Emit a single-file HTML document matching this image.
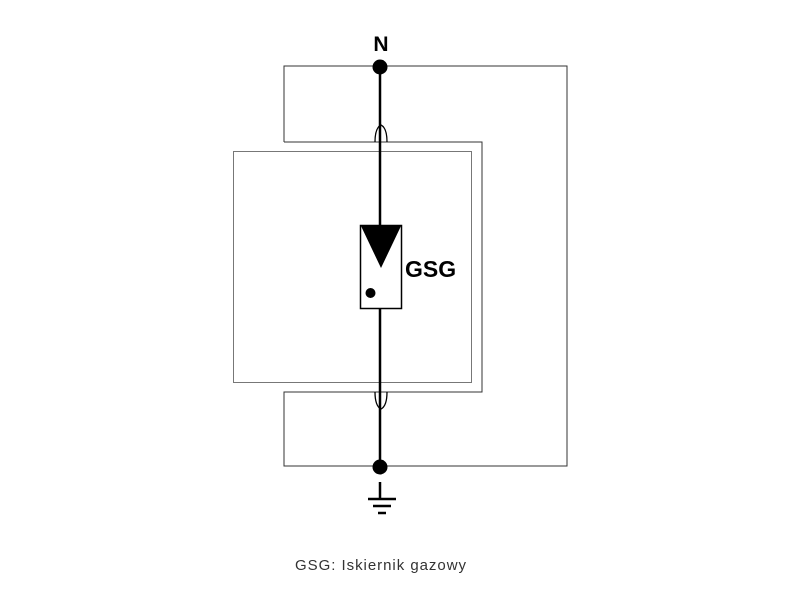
<!DOCTYPE html>
<html><head><style>body{margin:0;background:#fff}</style></head><body>
<svg width="800" height="600" xmlns="http://www.w3.org/2000/svg">
<g fill="none" stroke-width="1">
<polyline points="284,142 284,66 567,66 567,466 284,466 284,392 482,392 482,142 284,142" stroke="#333"/>
<rect x="233.5" y="151.5" width="238" height="231" stroke="#777"/>
</g>
<g stroke="#000" stroke-width="2.5" fill="none">
<line x1="380" y1="66" x2="380" y2="225"/>
<line x1="380" y1="308" x2="380" y2="466"/>
<line x1="380" y1="482" x2="380" y2="498"/>
</g>
<path d="M375 142 Q375 128 381 125 Q387 128 387 142" stroke="#000" stroke-width="1.3" fill="none"/>
<path d="M375 392 Q375 406 381 409 Q387 406 387 392" stroke="#000" stroke-width="1.3" fill="none"/>
<circle cx="380" cy="67" r="7.5" fill="#000"/>
<circle cx="380" cy="467" r="7.5" fill="#000"/>
<rect x="360.5" y="225.5" width="41" height="83" fill="#fff" stroke="#000" stroke-width="1.5"/>
<polygon points="361,226 401,226 381,268" fill="#000"/>
<circle cx="370.5" cy="293" r="5" fill="#000"/>
<g stroke="#000" stroke-width="2.5">
<line x1="368" y1="499" x2="396" y2="499"/>
<line x1="373" y1="506" x2="391" y2="506"/>
<line x1="378" y1="513" x2="386" y2="513"/>
</g>
<text x="381" y="51" font-family="Liberation Sans, sans-serif" font-weight="bold" font-size="21" text-anchor="middle">N</text>
<text x="405" y="277" font-family="Liberation Sans, sans-serif" font-weight="bold" font-size="23">GSG</text>
<text x="295" y="570" font-family="Liberation Sans, sans-serif" font-size="15" letter-spacing="1" fill="#333" textLength="172">GSG: Iskiernik gazowy</text>
</svg>
</body></html>
